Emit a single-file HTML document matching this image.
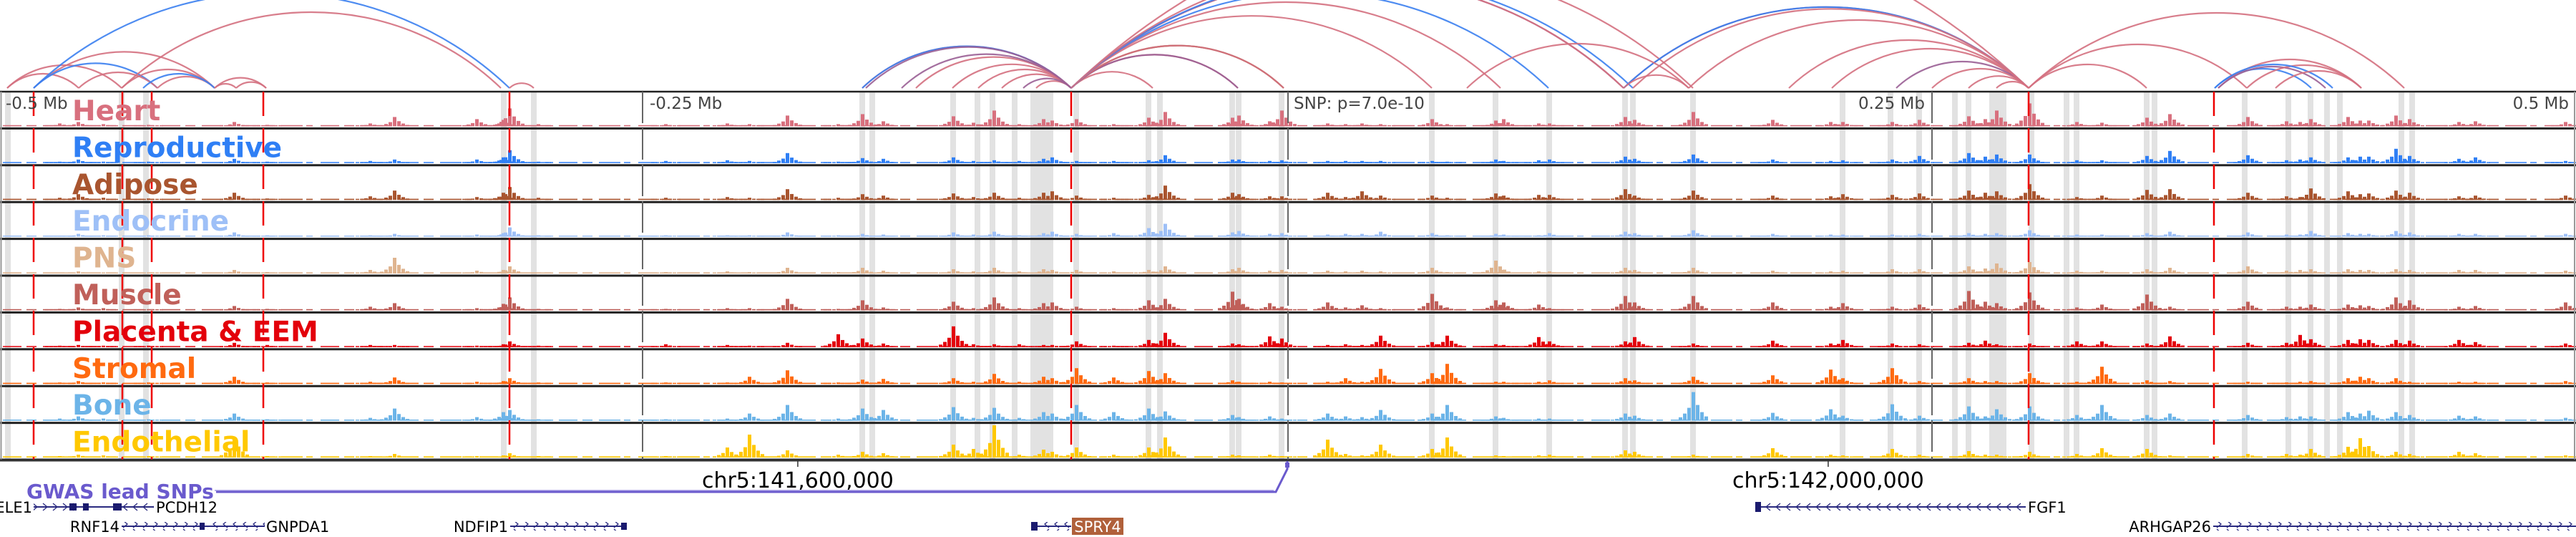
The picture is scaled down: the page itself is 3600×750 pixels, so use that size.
<!DOCTYPE html>
<html><head><meta charset="utf-8"><style>
html,body{margin:0;padding:0;background:#fff;width:3600px;height:750px;overflow:hidden}
svg{display:block}
text{font-family:"DejaVu Sans","Liberation Sans",sans-serif}
</style></head><body>
<svg id="chart" width="3600" height="750" viewBox="0 0 3600 750" xmlns="http://www.w3.org/2000/svg">
<g id="arcs"></g>
<g id="stripes"></g>
<g id="tracks"></g>
<g id="vlines"></g>
<g id="labels"></g>
<g id="bottom"></g>
</svg>
<script>
// ---- data ----
const trackNames = ["Heart","Reproductive","Adipose","Endocrine","PNS","Muscle","Placenta & EEM","Stromal","Bone","Endothelial"];
const trackColors = ["#d8707e","#2f7ff5","#a9552f","#9ec0f7","#dfb48f","#c0605a","#e3000b","#ff6a10","#6cb4e8","#ffc800"];
const peakPos = [83,109,144,207,327,373,517,551,666,703,712,752,930,1016,1047,1100,1171,1205,1234,1332,1360,1389,1424,1458,1470,1504,1556,1605,1628,1722,1731,1774,1791,
1855,1880,1903,1929,2001,2022,2090,2101,2150,2165,2271,2284,2366,2477,2558,2575,2644,2682,2751,2774,2790,2836,2902,2937,3000,3032,3141,3195,3214,3229,3281,3298,3310,3348,3367,3436,3459,3585];
const heart = [4,6,3,2,6,2,4,13,10,9,25,3,3,4,3,15,3,17,7,14,5,22,3,10,8,10,3,12,20,12,15,7,22,4,3,4,3,10,3,8,10,4,4,13,9,20,9,6,6,6,9,14,10,22,32,6,5,12,17,13,7,6,10,13,8,8,15,10,6,7,6];
const reproductive = [2,5,2,2,6,2,3,5,5,8,18,2,3,4,3,14,2,7,6,8,3,4,3,6,8,3,3,4,11,5,5,3,4,3,3,3,3,3,2,5,3,4,5,9,6,12,5,3,4,5,10,14,9,12,12,4,4,10,17,11,4,5,8,8,9,9,20,10,6,8,3];
const adipose = [3,8,3,2,10,2,5,13,4,10,18,3,3,4,3,15,3,8,6,9,4,10,3,10,12,6,3,7,20,10,8,5,5,10,4,12,6,6,3,9,6,7,7,15,6,13,6,5,8,7,9,13,10,12,22,4,6,14,15,10,5,4,16,12,8,9,13,10,5,6,6];
const endocrine = [1,4,2,2,6,2,2,4,3,5,13,2,2,2,2,6,2,4,3,6,3,7,2,5,7,4,5,12,18,6,8,4,5,3,4,4,7,5,2,4,3,2,5,7,5,9,4,3,3,3,4,5,4,5,9,3,3,5,7,6,3,3,8,5,4,4,8,6,4,4,4];
const pns = [1,3,1,1,5,2,5,22,4,5,10,1,2,3,2,8,2,8,4,6,3,8,3,6,5,5,3,5,10,6,8,4,5,4,3,4,3,8,2,18,5,3,3,8,5,8,4,3,4,6,6,10,7,14,16,4,4,6,8,10,4,5,6,6,5,5,6,5,5,5,4];
const muscle = [2,4,3,1,6,2,5,10,3,9,18,2,2,3,3,16,2,14,4,12,3,18,3,10,11,5,3,14,16,26,16,10,5,11,4,7,3,23,4,14,11,8,3,20,11,20,11,5,10,5,8,27,12,10,25,4,8,22,5,12,5,5,8,8,7,6,18,14,5,6,11];
const placenta = [2,3,2,2,6,3,3,3,2,4,8,2,4,3,2,6,18,12,5,29,4,4,4,3,3,8,2,10,20,5,4,15,12,3,4,3,16,7,16,4,3,14,8,8,14,5,9,5,10,5,4,6,9,4,5,8,8,5,15,6,6,17,11,10,11,10,10,9,10,7,5];
const stromal = [2,4,2,2,10,2,3,9,3,4,8,2,2,2,10,19,2,6,7,8,3,14,3,10,8,22,9,18,15,5,3,3,2,3,8,3,21,15,28,3,3,3,5,8,5,10,12,20,8,22,4,8,4,4,15,3,24,5,4,3,2,3,4,8,10,8,8,3,3,3,4];
const bone = [3,6,3,2,10,2,4,17,5,12,15,2,2,3,10,22,3,17,15,19,4,18,4,12,10,22,12,17,13,8,5,6,3,10,6,5,15,10,22,6,4,3,3,10,7,40,11,16,7,23,7,20,6,16,20,8,22,8,10,8,5,6,6,12,10,14,12,8,7,6,4];
const endothelial = [2,4,3,2,28,2,2,5,2,3,6,2,2,14,32,10,4,8,6,18,12,45,4,11,8,14,4,14,28,4,3,4,2,25,5,3,18,12,28,3,2,3,4,10,8,4,13,4,3,12,4,9,4,4,8,5,13,12,3,5,5,4,12,15,27,16,8,5,8,6,3];
const trackData = [heart,reproductive,adipose,endocrine,pns,muscle,placenta,stromal,bone,endothelial];
const stripeX = [11,170,204,704,746,1205,1219,1332,1366,1387,1418,1444,1452,1460,1468,1504,1605,1621,1722,1731,1791,
2001,2090,2165,2271,2282,2366,2575,2642,2682,2732,2751,2784,2792,2800,2839,2888,2902,3000,3011,3137,3198,3229,3252,3270,3356,3371];
const redLines = [47,171,212,368,712,1497,2835,3094];
const grayLines = [898,1800,2700];
const arcStart = [10,10,47,47,110,170,220,200,300,330,170,47,712,300,1205,1205,1210,1280,1331,1367,1400,1448,1430,1260,1497,1497,1497,1497,1497,1497,1497,1497,1497,1497,1497,1497,1497,2269,2269,2282,2269,2500,2560,2650,2700,2751,2790,2835,2835,2360,2050,3095,3100,3100,3140,3095,3180,2835];
const arcEnd   = [170,110,300,220,220,300,300,300,330,372,700,712,746,372,1497,1497,1497,1497,1497,1497,1497,1497,1497,1497,1611,1730,1730,1794,1794,2001,2097,2164,2269,2269,2835,2282,2366,2835,2835,2835,2360,2835,2835,2835,2835,2835,2835,3000,3140,2835,2360,3230,3300,3250,3300,3260,3300,3360];
const arcKind  = [0,0,0,1,0,0,0,1,0,0,0,1,0,0,0,1,2,0,0,0,0,0,2,2,0,0,2,3,0,0,0,1,2,0,0,1,0,2,1,0,0,0,0,2,0,0,0,0,0,0,0,1,0,2,0,1,0,0];
const arcColors = ["#d4707f","#3b7ff0","#9a5f95","#a0522d"];
const axisTicks = [141600000,142000000];
const axisLabels = ["chr5:141,600,000","chr5:142,000,000"];
const relLabels = ["-0.5 Mb","-0.25 Mb","SNP: p=7.0e-10","0.25 Mb","0.5 Mb"];
const relPos = [-0.5,-0.25,0,0.25,0.5];

// ---- scales ----
const NS="http://www.w3.org/2000/svg";
const W=3600, T0=128, TH=51.4, N=trackNames.length;
const snpBp=141790300;
const xRel = mb => 1800 + mb*3600;
const xBp = bp => 1800 + (bp-snpBp)/1e6*3600;
const vScale = v => Math.min(v, TH-6);
function mk(tag, attrs, parent){const e=document.createElementNS(NS,tag);for(const k in attrs)e.setAttribute(k,attrs[k]);parent.appendChild(e);return e;}

// arcs
const arcsG=document.getElementById('arcs');
const AB=123;
arcStart.forEach((a,i)=>{
  const b=arcEnd[i], c=b-a, s=c*0.2, r=(c*c/4+s*s)/(2*s);
  const p=mk('path',{d:`M${a},${AB} A${r},${r} 0 0 1 ${b},${AB}`,fill:'none',stroke:arcColors[arcKind[i]],'stroke-width':2.2,'stroke-opacity':0.9},arcsG);
  
  
});

// stripes
const stG=document.getElementById('stripes');
stripeX.forEach(x=>{
  const r=mk('rect',{x:x-4,y:T0,width:8,height:TH*N,fill:'#e2e2e2'},stG);
  
  
});

// tracks
const trG=document.getElementById('tracks');
const shape=[[-20,0.12],[-14,0.25],[-8,0.45],[-2,1],[4,0.55],[10,0.3],[16,0.15]];
trackData.forEach((arr,t)=>{
  const top=T0+t*TH, base=top+TH-3, col=trackColors[t];
  const g=mk('g',{},trG);
  
  
  mk('line',{x1:4,y1:base-0.8,x2:W-4,y2:base-0.8,stroke:col,'stroke-width':1.6,'stroke-dasharray':'26 7 14 9 30 5 9 11'},g);
  arr.forEach((v,i)=>{
    const x=peakPos[i], h=vScale(v);
    shape.forEach(([dx,f],k)=>{
      const hh=Math.max(1.5,h*f);
      const bar=mk('rect',{x:x+dx,y:base-hh,width:5,height:hh,fill:col},g);
      if(k===3){
        
        
      }
    });
  });
  mk('line',{x1:0,x2:W,y1:top+TH,y2:top+TH,stroke:'#222','stroke-width':3},g);
});
mk('line',{x1:0,x2:W,y1:T0,y2:T0,stroke:'#222','stroke-width':2.5},trG);
mk('line',{x1:1.5,x2:1.5,y1:T0,y2:T0+TH*N,stroke:'#999','stroke-width':2},trG);
mk('line',{x1:W-2,x2:W-2,y1:T0,y2:T0+TH*N,stroke:'#999','stroke-width':2},trG);

// vertical marker lines
const vG=document.getElementById('vlines');
redLines.forEach(x=>{
  const l=mk('line',{x1:x,x2:x,y1:T0,y2:T0+TH*N,stroke:'#ee0000','stroke-width':2.5,'stroke-dasharray':'34 17'},vG);
  
  
});
grayLines.forEach(x=>{
  const l=mk('line',{x1:x,x2:x,y1:T0,y2:T0+TH*N,stroke:'#666','stroke-width':2,'stroke-dasharray':'44 7'},vG);
  
  
});

// labels
const lG=document.getElementById('labels');
trackNames.forEach((n,t)=>{
  const tx=mk('text',{x:101,y:T0+t*TH+40,'font-size':39,'font-weight':'bold',fill:trackColors[t]},lG);
  tx.textContent=n;
  
  
});
relLabels.forEach((s,i)=>{
  const x=xRel(relPos[i]);
  let anchor='start', px=x+8;
  if(i===0){px=8;} else if(i===3||i===4){anchor='end';px=x-10;}
  const tx=mk('text',{x:px,y:152,'font-size':23,fill:'#444','text-anchor':anchor},lG);
  tx.textContent=s;
  
  
});

// bottom axis
const bG=document.getElementById('bottom');
mk('line',{x1:0,x2:W,y1:T0+TH*N+1,y2:T0+TH*N+1,stroke:'#333','stroke-width':3},bG);
axisTicks.forEach((bp,i)=>{
  const x=xBp(bp);
  const tk=mk('line',{x1:x,x2:x,y1:643,y2:652,stroke:'#333','stroke-width':1.5},bG);
  
  
  const tx=mk('text',{x:x,y:681,'font-size':30,fill:'#000','text-anchor':'middle'},bG);
  tx.textContent=axisLabels[i];
  
  
});
</script>
<svg width="3600" height="750" style="position:absolute;left:0;top:0" viewBox="0 0 3600 750" xmlns="http://www.w3.org/2000/svg">
<defs>
<pattern id="chevR" width="14" height="12" patternUnits="userSpaceOnUse" y="-6"><path d="M4,1 L10,6 L4,11" fill="none" stroke="#2a2a80" stroke-width="1.3"/></pattern>
<pattern id="chevL" width="14" height="12" patternUnits="userSpaceOnUse" y="-6"><path d="M10,1 L4,6 L10,11" fill="none" stroke="#2a2a80" stroke-width="1.3"/></pattern>
</defs>
<g>
<text x="37" y="696" font-size="28" font-weight="bold" fill="#6a5acd">GWAS lead SNPs</text>
<line x1="300" y1="685" x2="1780" y2="685" stroke="#b8b0ea" stroke-width="2"/>
<polyline points="302,687 1783,687 1799,655 1799,644" fill="none" stroke="#6a5acd" stroke-width="3"/>
<rect x="1796" y="646" width="6" height="7" fill="#6a5acd"/>
</g>
<g font-family="DejaVu Sans, Liberation Sans, sans-serif" font-size="21" fill="#000">
<g><text x="45" y="716" text-anchor="end">ELE1</text><line x1="47" y1="708" x2="215" y2="708" stroke="#2a2a80" stroke-width="2"/><rect x="47" y="702" width="80" height="12" fill="url(#chevR)"/><rect x="97" y="703" width="10" height="10" fill="#1a1a6e"/><rect x="116" y="703" width="8" height="10" fill="#1a1a6e"/><rect x="158" y="703" width="12" height="10" fill="#1a1a6e"/><rect x="170" y="702" width="45" height="12" fill="url(#chevL)"/></g>
<text x="218" y="716">PCDH12</text>
<g><text x="167" y="743" text-anchor="end">RNF14</text><line x1="170" y1="735" x2="370" y2="735" stroke="#2a2a80" stroke-width="2"/><rect x="170" y="729" width="110" height="12" fill="url(#chevR)"/><rect x="279" y="730" width="7" height="10" fill="#1a1a6e"/><rect x="290" y="729" width="80" height="12" fill="url(#chevL)"/></g>
<text x="372" y="743">GNPDA1</text>
<g><text x="710" y="743" text-anchor="end">NDFIP1</text><line x1="713" y1="735" x2="875" y2="735" stroke="#2a2a80" stroke-width="2"/><rect x="713" y="729" width="155" height="12" fill="url(#chevR)"/><rect x="868" y="730" width="8" height="10" fill="#1a1a6e"/></g>
<g><line x1="1445" y1="735" x2="1497" y2="735" stroke="#2a2a80" stroke-width="2"/><rect x="1441" y="729" width="9" height="12" fill="#1a1a6e"/><rect x="1452" y="729" width="44" height="12" fill="url(#chevL)"/><rect x="1498" y="723" width="72" height="24" fill="#b0603a"/><text x="1534" y="743" text-anchor="middle" fill="#fff">SPRY4</text></g>
<g><line x1="2455" y1="708" x2="2831" y2="708" stroke="#2a2a80" stroke-width="2"/><rect x="2453" y="701" width="8" height="14" fill="#1a1a6e"/><rect x="2462" y="702" width="368" height="12" fill="url(#chevL)"/><text x="2834" y="716">FGF1</text></g>
<g><text x="3090" y="743" text-anchor="end">ARHGAP26</text><line x1="3093" y1="735" x2="3600" y2="735" stroke="#2a2a80" stroke-width="2"/><rect x="3093" y="729" width="507" height="12" fill="url(#chevR)"/></g>
</g>
</svg>
</body></html>
